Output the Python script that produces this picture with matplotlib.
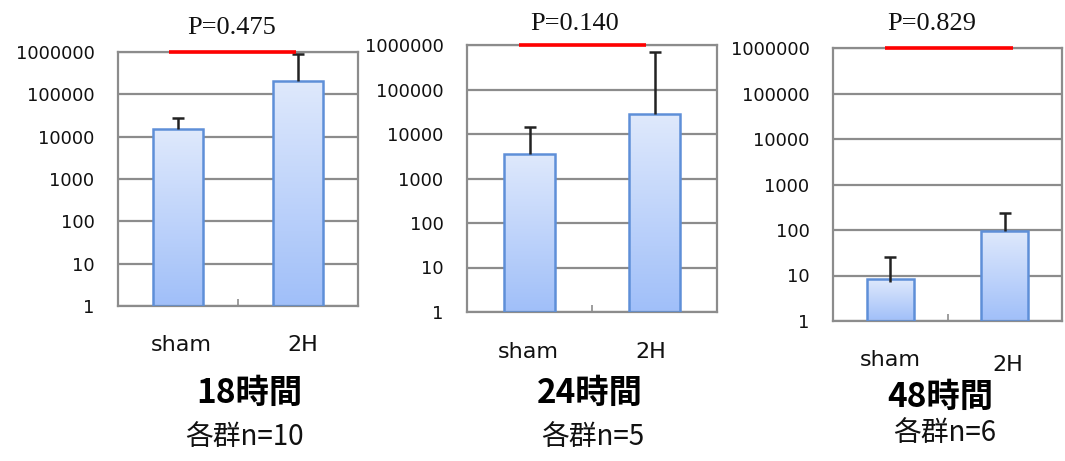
import numpy as np
import matplotlib
matplotlib.use("Agg")
import matplotlib.pyplot as plt
from matplotlib.colors import LinearSegmentedColormap

# ---- data ----
categories = ["sham", "2H"]
titles = ["18時間", "24時間", "48時間"]
subtitles = ["各群n=10", "各群n=5", "各群n=6"]
p_values = ["P=0.475", "P=0.140", "P=0.829"]
means_18h = [15000, 210000]
err_top_18h = [27000, 900000]
means_24h = [3600, 28000]
err_top_24h = [14500, 700000]
means_48h = [7.2, 95]
err_top_48h = [26, 240]
ytick_values = [1, 10, 100, 1000, 10000, 100000, 1000000]
ytick_labels = ["1", "10", "100", "1000", "10000", "100000", "1000000"]

panels = [
    (means_18h, err_top_18h),
    (means_24h, err_top_24h),
    (means_48h, err_top_48h),
]

# ---- layout (figure pixels) ----
W, H = 1065, 461
axes_px = [  # left, top, right, bottom
    (118, 52, 358, 306),
    (467, 45, 717, 312),
    (833, 48, 1062, 321),
]
red_span = [(-0.075, 0.983), (-0.084, 0.932), (-0.046, 1.07)]
p_pos = [(232, 28), (575, 24), (932, 24)]
cat_pos = [[(181, 345), (303, 345)], [(528, 352), (651, 352)], [(890, 360), (1008, 365)]]
title_pos = [(249, 393), (590, 393), (940, 397)]
sub_pos = [(245, 437), (593, 437), (945, 433)]

grad = LinearSegmentedColormap.from_list("g", ["#a0bff9", "#dfe9fc"])
grid_col = "#8c8c8c"

fig = plt.figure(figsize=(W / 100, H / 100), dpi=100)
fig.patch.set_facecolor("white")

def fx(x):
    return x / W

def fy(y):
    return 1 - y / H

cjk = ["Noto Sans CJK JP", "DejaVu Sans"]

for i, ((means, tops), (l, t, r, b)) in enumerate(zip(panels, axes_px)):
    ax = fig.add_axes([fx(l), fy(b), (r - l) / W, (b - t) / H])
    ax.set_yscale("log")
    ax.set_ylim(1, 1e6)
    ax.set_xlim(-0.5, 1.5)
    x = np.arange(len(categories))
    bars = ax.bar(x, means, width=0.41, bottom=1, color="none",
                  edgecolor="#5e8fd8", linewidth=1.8, zorder=3)
    # gradient fills
    for bar in bars:
        x0 = (bar.get_x() + 0.5) / 2.0
        x1 = (bar.get_x() + bar.get_width() + 0.5) / 2.0
        y1 = np.log10(bar.get_height() + 1) / 6.0
        im = ax.imshow(np.linspace(0, 1, 256).reshape(-1, 1), cmap=grad,
                       origin="lower", aspect="auto",
                       extent=[x0, x1, 0, y1], transform=ax.transAxes,
                       zorder=2)
        im.set_clip_path(bar)
    # error bars (upper only)
    ax.vlines(x, means, tops, color="#222222", linewidth=1.8, zorder=4)
    ax.plot(x, tops, linestyle="none", marker="_", markersize=8,
            markeredgewidth=1.8, color="#222222", zorder=4, clip_on=False)
    # grid
    ax.yaxis.grid(True, which="major", color=grid_col, linewidth=1.6, zorder=1)
    ax.xaxis.grid(False)
    ax.minorticks_off()
    ax.set_axisbelow(True)
    for s in ax.spines.values():
        s.set_color(grid_col)
        s.set_linewidth(1.6)
    ax.set_yticks(ytick_values)
    ax.set_yticklabels(ytick_labels)
    ax.tick_params(axis="y", length=0, pad=17, labelsize=13, labelcolor="#111111")
    for lab in ax.get_yticklabels():
        lab.set_family("DejaVu Sans")
    ax.set_xticks([0.5])
    ax.set_xticklabels([""])
    ax.tick_params(axis="x", direction="in", length=5, color=grid_col, width=1.2)
    # red significance line
    ax.plot(red_span[i], [1e6, 1e6], color="#ff0000", linewidth=2.6,
            solid_capstyle="butt", clip_on=False, zorder=5)
    # texts
    fig.text(fx(p_pos[i][0]), fy(p_pos[i][1]), p_values[i], ha="center",
             va="center", family="Liberation Serif", fontsize=19, color="#111111")
    for c, (cx, cy) in zip(categories, cat_pos[i]):
        fig.text(fx(cx), fy(cy), c, ha="center", va="center",
                 family="DejaVu Sans", fontsize=16, color="#111111")
    fig.text(fx(title_pos[i][0]), fy(title_pos[i][1]), titles[i], ha="center",
             va="center", family=cjk, fontsize=24, fontweight="bold", color="#000000")
    fig.text(fx(sub_pos[i][0]), fy(sub_pos[i][1]), subtitles[i], ha="center",
             va="center", family=cjk, fontsize=20, color="#111111")

fig.savefig("out.png", dpi=100, facecolor="white")
